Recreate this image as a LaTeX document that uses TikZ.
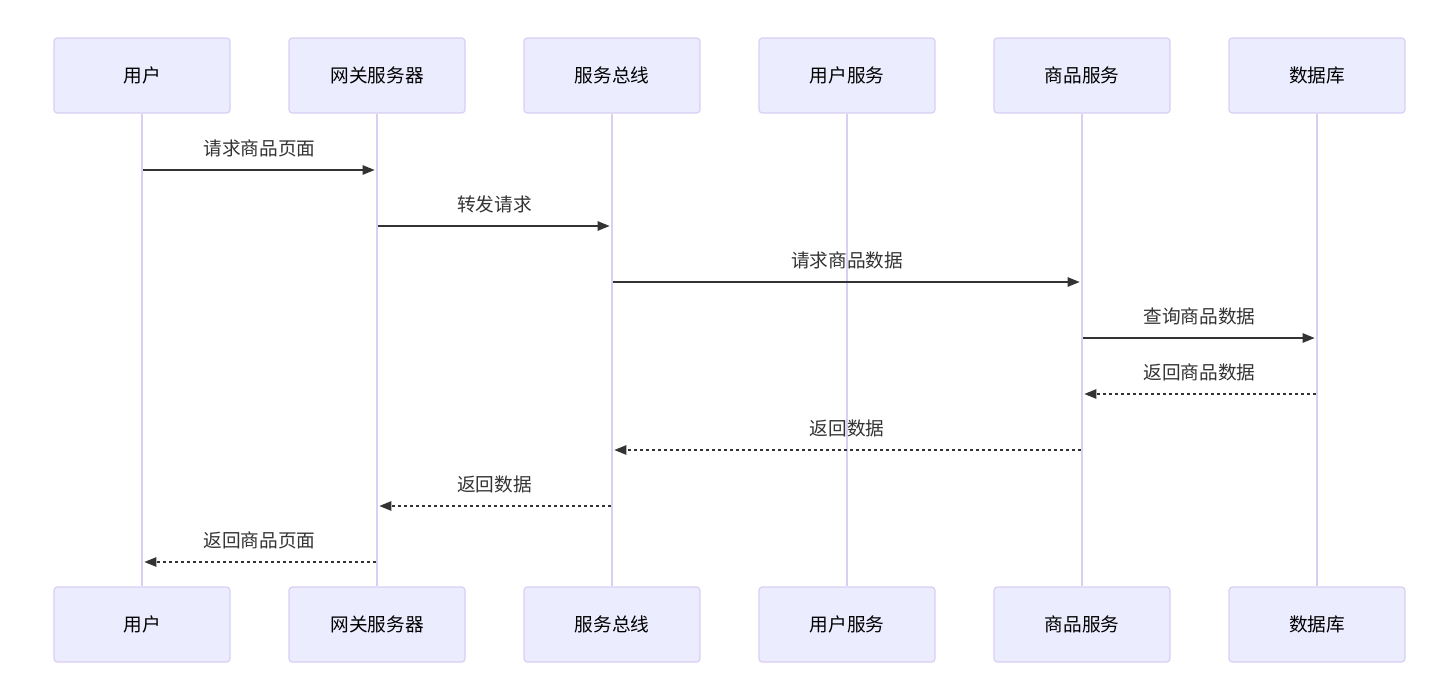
\documentclass[tikz,border=0pt]{standalone}
\usepackage{fontspec}
\setmainfont{Noto Sans CJK SC}
\usetikzlibrary{arrows.meta}
\definecolor{actorfill}{HTML}{ECECFF}
\definecolor{actorline}{HTML}{DACEF3}
\definecolor{msgcolor}{HTML}{333333}
\begin{document}
\begin{tikzpicture}[x=0.75pt,y=-0.75pt,
    actor/.style={draw=actorline,fill=actorfill,line width=0.9pt,rounded corners=2.5pt,
        minimum width=132pt,minimum height=56.25pt,inner sep=0pt,font=\fontsize{14}{16}\selectfont,text=black},
    lifeline/.style={draw=actorline,line width=1.5pt},
    msg/.style={draw=msgcolor,line width=1.2pt,-{Triangle[length=9pt,width=7pt]},shorten >=1pt},
    reply/.style={msg,dash pattern=on 2.25pt off 2.25pt},
    msglabel/.style={font=\fontsize{14}{16}\selectfont,text=msgcolor,anchor=base}]
    \useasboundingbox (0,0) rectangle (1440,696);

    % Participants (top)
    \node[actor] (usr-top) at (142,75.5) {用户};
    \node[actor] (gw-top) at (377,75.5) {网关服务器};
    \node[actor] (bus-top) at (612,75.5) {服务总线};
    \node[actor] (us-top) at (847,75.5) {用户服务};
    \node[actor] (gs-top) at (1082,75.5) {商品服务};
    \node[actor] (db-top) at (1317,75.5) {数据库};

    % Participants (bottom)
    \node[actor] (usr-bot) at (142,624.5) {用户};
    \node[actor] (gw-bot) at (377,624.5) {网关服务器};
    \node[actor] (bus-bot) at (612,624.5) {服务总线};
    \node[actor] (us-bot) at (847,624.5) {用户服务};
    \node[actor] (gs-bot) at (1082,624.5) {商品服务};
    \node[actor] (db-bot) at (1317,624.5) {数据库};

    % Lifelines
    \draw[lifeline] (usr-top) -- (usr-bot);
    \draw[lifeline] (gw-top) -- (gw-bot);
    \draw[lifeline] (bus-top) -- (bus-bot);
    \draw[lifeline] (us-top) -- (us-bot);
    \draw[lifeline] (gs-top) -- (gs-bot);
    \draw[lifeline] (db-top) -- (db-bot);

    % Message end points
    \coordinate (m1a) at (143,170);  \coordinate (m1b) at (376,170);
    \coordinate (m2a) at (378,226);  \coordinate (m2b) at (611,226);
    \coordinate (m3a) at (613,282);  \coordinate (m3b) at (1081,282);
    \coordinate (m4a) at (1083,338); \coordinate (m4b) at (1316,338);
    \coordinate (m5a) at (1316,394); \coordinate (m5b) at (1083,394);
    \coordinate (m6a) at (1081,450); \coordinate (m6b) at (613,450);
    \coordinate (m7a) at (611,506);  \coordinate (m7b) at (378,506);
    \coordinate (m8a) at (376,562);  \coordinate (m8b) at (143,562);

    % Requests
    \draw[msg] (m1a) -- (m1b);
    \draw[msg] (m2a) -- (m2b);
    \draw[msg] (m3a) -- (m3b);
    \draw[msg] (m4a) -- (m4b);

    % Replies
    \draw[reply] (m5a) -- (m5b);
    \draw[reply] (m6a) -- (m6b);
    \draw[reply] (m7a) -- (m7b);
    \draw[reply] (m8a) -- (m8b);

    % Labels
    \node[msglabel] (l1) at (259.5,155) {请求商品页面};
    \node[msglabel] (l2) at (494.5,211) {转发请求};
    \node[msglabel] (l3) at (847,267) {请求商品数据};
    \node[msglabel] (l4) at (1199.5,323) {查询商品数据};
    \node[msglabel] (l5) at (1199.5,379) {返回商品数据};
    \node[msglabel] (l6) at (847,435) {返回数据};
    \node[msglabel] (l7) at (494.5,491) {返回数据};
    \node[msglabel] (l8) at (259.5,547) {返回商品页面};
\end{tikzpicture}
\end{document}
